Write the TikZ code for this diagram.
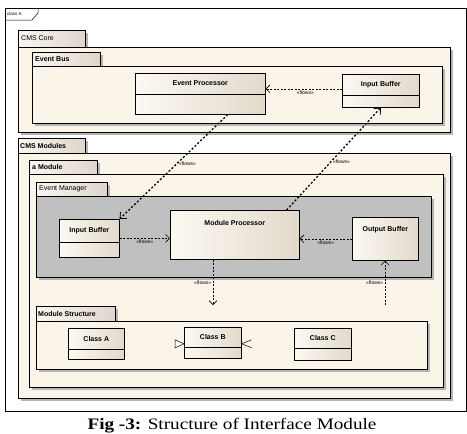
\documentclass[tikz,border=0pt]{standalone}
\usepackage{fontspec}
\setmainfont{Liberation Serif}
\setsansfont{Liberation Sans}
\usetikzlibrary{arrows.meta,calc,shadows}
\definecolor{pkgfill}{RGB}{251,244,233}
\definecolor{tabl}{RGB}{250,246,240}
\definecolor{tabr}{RGB}{222,214,204}
\definecolor{clsl}{RGB}{252,249,242}
\definecolor{clsr}{RGB}{226,217,203}
\definecolor{mgrgray}{RGB}{192,192,192}
\definecolor{shade}{RGB}{180,180,180}

\begin{document}
\begin{tikzpicture}[x=1pt,y=-1pt,
  pkg/.style={draw=black,line width=0.6pt,fill=pkgfill,
    drop shadow={shadow xshift=2.5pt,shadow yshift=-2.5pt,fill=shade,opacity=1}},
  tab/.style={pkg,left color=tabl,right color=tabr},
  pkglbl/.style={font=\sffamily\fontsize{7}{8}\selectfont,anchor=west,inner sep=0pt},
  cls/.style={draw=black,line width=0.6pt,left color=clsl,right color=clsr,
    inner sep=0pt,anchor=north west},
  ttl/.style={font=\sffamily\bfseries\fontsize{7}{8}\selectfont,inner sep=0pt},
  flw/.style={font=\sffamily\fontsize{5}{6}\selectfont,inner sep=1.5pt},
  dep/.style={line width=0.6pt,dash pattern=on 2pt off 1.5pt,
    -{Straight Barb[length=4pt,width=8pt]}},
  dep2/.style={line width=1.3pt,dash pattern=on 2pt off 2pt,
    -{Straight Barb[length=5pt,width=9pt,line width=0.8pt]}}]

\fill[white] (0,0) rectangle (467,434);
\useasboundingbox (0,0) rectangle (467,434);

% outer frame
\draw[line width=0.8pt] (5,8) rectangle (466,411);
\draw[line width=0.5pt] (5,20) -- (32,20) -- (38,13) -- (38,8);
\node[font=\sffamily\fontsize{4.5}{5}\selectfont,anchor=west,inner sep=0pt] (frm) at (7,14) {class A};

% CMS Core
\draw[tab] (18,30) rectangle (85,47);
\draw[pkg] (18,47) rectangle (450,132);
\node[pkglbl] (core) at (21,38.5) {CMS Core};
\draw[tab] (32,52) rectangle (100,66);
\draw[pkg] (32,66) rectangle (442,123);
\node[pkglbl,font=\sffamily\bfseries\fontsize{7}{8}\selectfont] (bus) at (35,59) {Event Bus};

\node[cls,minimum width=130,minimum height=41] (evproc) at (135,73) {};
\draw[line width=0.6pt] ($(evproc.north west)+(0,21)$) -- ($(evproc.north east)+(0,21)$);
\node[ttl] (evproc-t) at ($(evproc.north)+(0,10.5)$) {Event Processor};

\node[cls,minimum width=77,minimum height=33] (ibcore) at (342,74) {};
\draw[line width=0.6pt] ($(ibcore.north west)+(0,21)$) -- ($(ibcore.north east)+(0,21)$);
\node[ttl] (ibcore-t) at ($(ibcore.north)+(0,10.5)$) {Input Buffer};

% CMS Modules
\draw[tab] (18,138) rectangle (85,153);
\draw[pkg] (18,153) rectangle (450,398);
\node[pkglbl,font=\sffamily\bfseries\fontsize{7}{8}\selectfont] (mods) at (20,145.5) {CMS Modules};
\draw[tab] (29,160) rectangle (97,174);
\draw[pkg] (29,174) rectangle (443,387);
\node[pkglbl,font=\sffamily\bfseries\fontsize{7}{8}\selectfont] (amod) at (32,167) {a Module};

% event manager
\draw[tab] (36,182) rectangle (107,196);
\draw[pkg,fill=mgrgray] (36,196) rectangle (431,277);
\node[pkglbl] (mgr) at (39,189) {Event Manager};

\node[cls,minimum width=60,minimum height=38] (ibmod) at (59,219) {};
\draw[line width=0.6pt] ($(ibmod.north west)+(0,23)$) -- ($(ibmod.north east)+(0,23)$);
\node[ttl] (ibmod-t) at ($(ibmod.north)+(0,11.5)$) {Input Buffer};

\node[cls,minimum width=129,minimum height=49] (modproc) at (170,210) {};
\node[ttl] (modproc-t) at ($(modproc.north)+(0,13)$) {Module Processor};

\node[cls,minimum width=66,minimum height=43] (outbuf) at (352,217) {};
\node[ttl] (outbuf-t) at ($(outbuf.north)+(0,13)$) {Output Buffer};

% module structure
\draw[tab] (36,306) rectangle (115,321);
\draw[pkg] (36,321) rectangle (427,369);
\node[pkglbl,font=\sffamily\bfseries\fontsize{7}{8}\selectfont] (mstruct) at (38,313.5) {Module Structure};

\node[cls,minimum width=56,minimum height=31] (clsa) at (68,328) {};
\draw[line width=0.6pt] ($(clsa.north west)+(0,21)$) -- ($(clsa.north east)+(0,21)$);
\node[ttl] (clsa-t) at ($(clsa.north)+(0,10.5)$) {Class A};

\node[cls,minimum width=57,minimum height=31] (clsb) at (184,327) {};
\draw[line width=0.6pt] ($(clsb.north west)+(0,20)$) -- ($(clsb.north east)+(0,20)$);
\node[ttl] (clsb-t) at ($(clsb.north)+(0,10)$) {Class B};

\node[cls,minimum width=57,minimum height=32] (clsc) at (294,328) {};
\draw[line width=0.6pt] ($(clsc.north west)+(0,20)$) -- ($(clsc.north east)+(0,20)$);
\node[ttl] (clsc-t) at ($(clsc.north)+(0,10)$) {Class C};

% tips beside class B
\draw[line width=0.5pt,fill=white] ($(clsb.west)+(0,1)$) -- ++(-9,-4) -- ++(0,8) -- cycle;
\draw[line width=0.5pt] ($(clsb.east)+(10,-3)$) -- ($(clsb.east)+(0,1)$) -- ($(clsb.east)+(10,5)$);

% flows
\draw[dep] ($(ibcore.west)+(0,-2)$) -- ($(ibcore.west -| evproc.east)+(0,-2)$)
  node[flw,below,pos=0.48] (f1) {«flows»};
\draw[dep2] ($(evproc.south)!0.42!(evproc.south east)$) -- (ibmod.north east)
  node[flw,right,pos=0.47] (f2) {«flows»};
\draw[dep2] ($(modproc.north)!0.8!(modproc.north east)$) -- (ibcore.south)
  node[flw,right,pos=0.47] (f3) {«flows»};
\draw[dep] (ibmod.east) -- (ibmod.east -| modproc.west)
  node[flw,below,pos=0.5] (f4) {«flows»};
\draw[dep] (outbuf.west) -- (outbuf.west -| modproc.east)
  node[flw,below,pos=0.5] (f5) {«flows»};
\coordinate (mstop) at (213,305);
\draw[dep] (modproc.south -| mstop) -- (mstop)
  node[flw,left,pos=0.5] (f6) {«flows»};
\coordinate (msout) at (385,305);
\draw[dep] (msout) -- (msout |- outbuf.south)
  node[flw,left,pos=0.5] (f7) {«flows»};

\node[font=\fontsize{16}{18}\selectfont,inner sep=0pt,anchor=base] (cap) at (232,429)
  {\scalebox{1.2}[1]{\textbf{Fig -3:} Structure of Interface Module}};
\end{tikzpicture}
\end{document}
